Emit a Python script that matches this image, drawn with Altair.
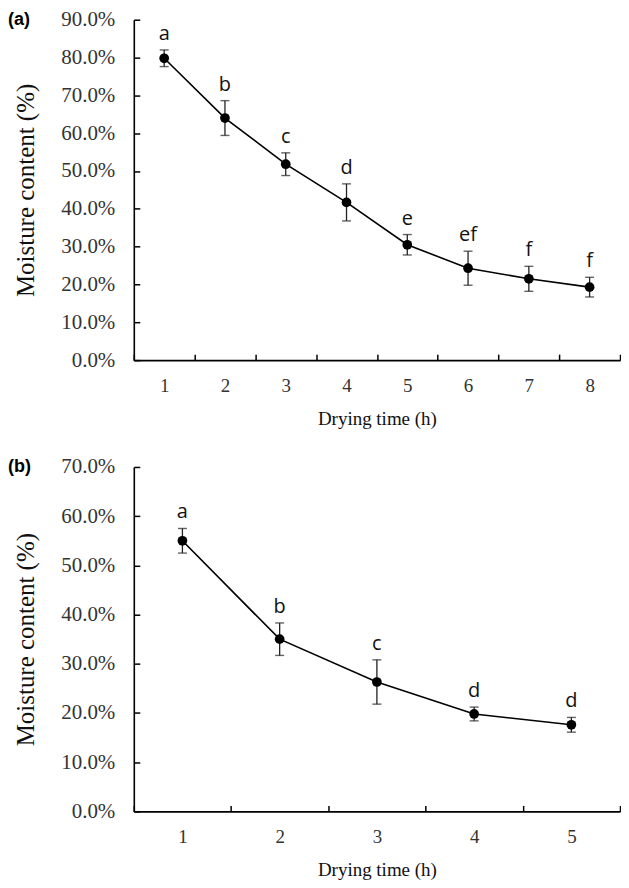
import altair as alt
import pandas as pd

# Panel (a)
times_a = [1, 2, 3, 4, 5, 6, 7, 8]
moisture_a = [79.8, 64.0, 51.8, 41.7, 30.5, 24.3, 21.5, 19.3]
sd_a = [2.2, 4.6, 3.0, 4.9, 2.7, 4.5, 3.3, 2.6]
letters_a = ["a", "b", "c", "d", "e", "ef", "f", "f"]
yticks_a = [0.0, 0.1, 0.2, 0.3, 0.4, 0.5, 0.6, 0.7, 0.8, 0.9]

# Panel (b)
times_b = [1, 2, 3, 4, 5]
moisture_b = [55.0, 35.0, 26.3, 19.8, 17.6]
sd_b = [2.5, 3.3, 4.5, 1.4, 1.5]
letters_b = ["a", "b", "c", "d", "d"]
yticks_b = [0.0, 0.1, 0.2, 0.3, 0.4, 0.5, 0.6, 0.7]

SERIF = "Liberation Serif"


def panel(times, moisture, sd, letters, yticks, tag, w, h):
    df = pd.DataFrame({
        "t": [str(t) for t in times],
        "m": [v / 100 for v in moisture],
        "lo": [(v - s) / 100 for v, s in zip(moisture, sd)],
        "hi": [(v + s) / 100 for v, s in zip(moisture, sd)],
        "lab": letters,
    })
    xaxis = alt.Axis(title="Drying time (h)", labelAngle=0, tickBand="extent",
                     tickSize=alt.ExprRef("-6"), labelPadding=22, titlePadding=14,
                     labelFont=SERIF, labelFontSize=19, titleFont=SERIF,
                     titleFontSize=19, titleFontWeight="normal",
                     labelColor="#333", titleColor="#111",
                     domainColor="black", domainWidth=1.6,
                     tickColor="black", tickWidth=1.5, grid=False)
    yaxis = alt.Axis(title="Moisture content (%)", values=yticks, format=".1%",
                     tickSize=alt.ExprRef("-6"), labelPadding=25, titlePadding=22,
                     labelFont=SERIF, labelFontSize=21, titleFont=SERIF,
                     titleFontSize=25, titleFontWeight="normal",
                     labelColor="#333", titleColor="#111",
                     domainColor="black", domainWidth=1.6,
                     tickColor="black", tickWidth=1.5, grid=False)
    xs = alt.Scale(type="band", paddingInner=0, paddingOuter=0)
    ys = alt.Scale(domain=[0, yticks[-1]], nice=False)

    def X():
        return alt.X("t:O", sort=None, scale=xs, axis=xaxis)

    def Y(f):
        return alt.Y(f"{f}:Q", scale=ys, axis=yaxis)

    base = alt.Chart(df)
    line = base.mark_line(color="black", strokeWidth=1.6).encode(x=X(), y=Y("m"))
    rule = base.mark_rule(color="#222", strokeWidth=1.3).encode(x=X(), y=Y("lo"), y2="hi:Q")
    cap_lo = base.mark_tick(color="#222", thickness=1.4, size=9, orient="horizontal").encode(x=X(), y=Y("lo"))
    cap_hi = base.mark_tick(color="#222", thickness=1.4, size=9, orient="horizontal").encode(x=X(), y=Y("hi"))
    pts = base.mark_circle(color="black", size=95, opacity=1).encode(x=X(), y=Y("m"))
    text = base.mark_text(font="Open Sans", fontSize=20, baseline="alphabetic", dy=-10,
                          color="#111").encode(x=X(), y=Y("hi"), text="lab:N")
    tagc = alt.Chart(pd.DataFrame({"tag": [tag]})).mark_text(
        font="Liberation Sans", fontWeight="bold", fontSize=18, align="left",
        baseline="middle", color="black").encode(
        x=alt.value(-126), y=alt.value(0), text="tag:N")
    return alt.layer(line, rule, cap_lo, cap_hi, pts, text, tagc).properties(width=w, height=h)


pa = panel(times_a, moisture_a, sd_a, letters_a, yticks_a, "(a)", 487, 341)
pb = panel(times_b, moisture_b, sd_b, letters_b, yticks_b, "(b)", 487, 345)

chart = alt.vconcat(pa, pb, spacing=28).properties(padding=0).configure_view(stroke=None)
chart.save("out.html", embed_options={"renderer": "svg", "actions": False})
